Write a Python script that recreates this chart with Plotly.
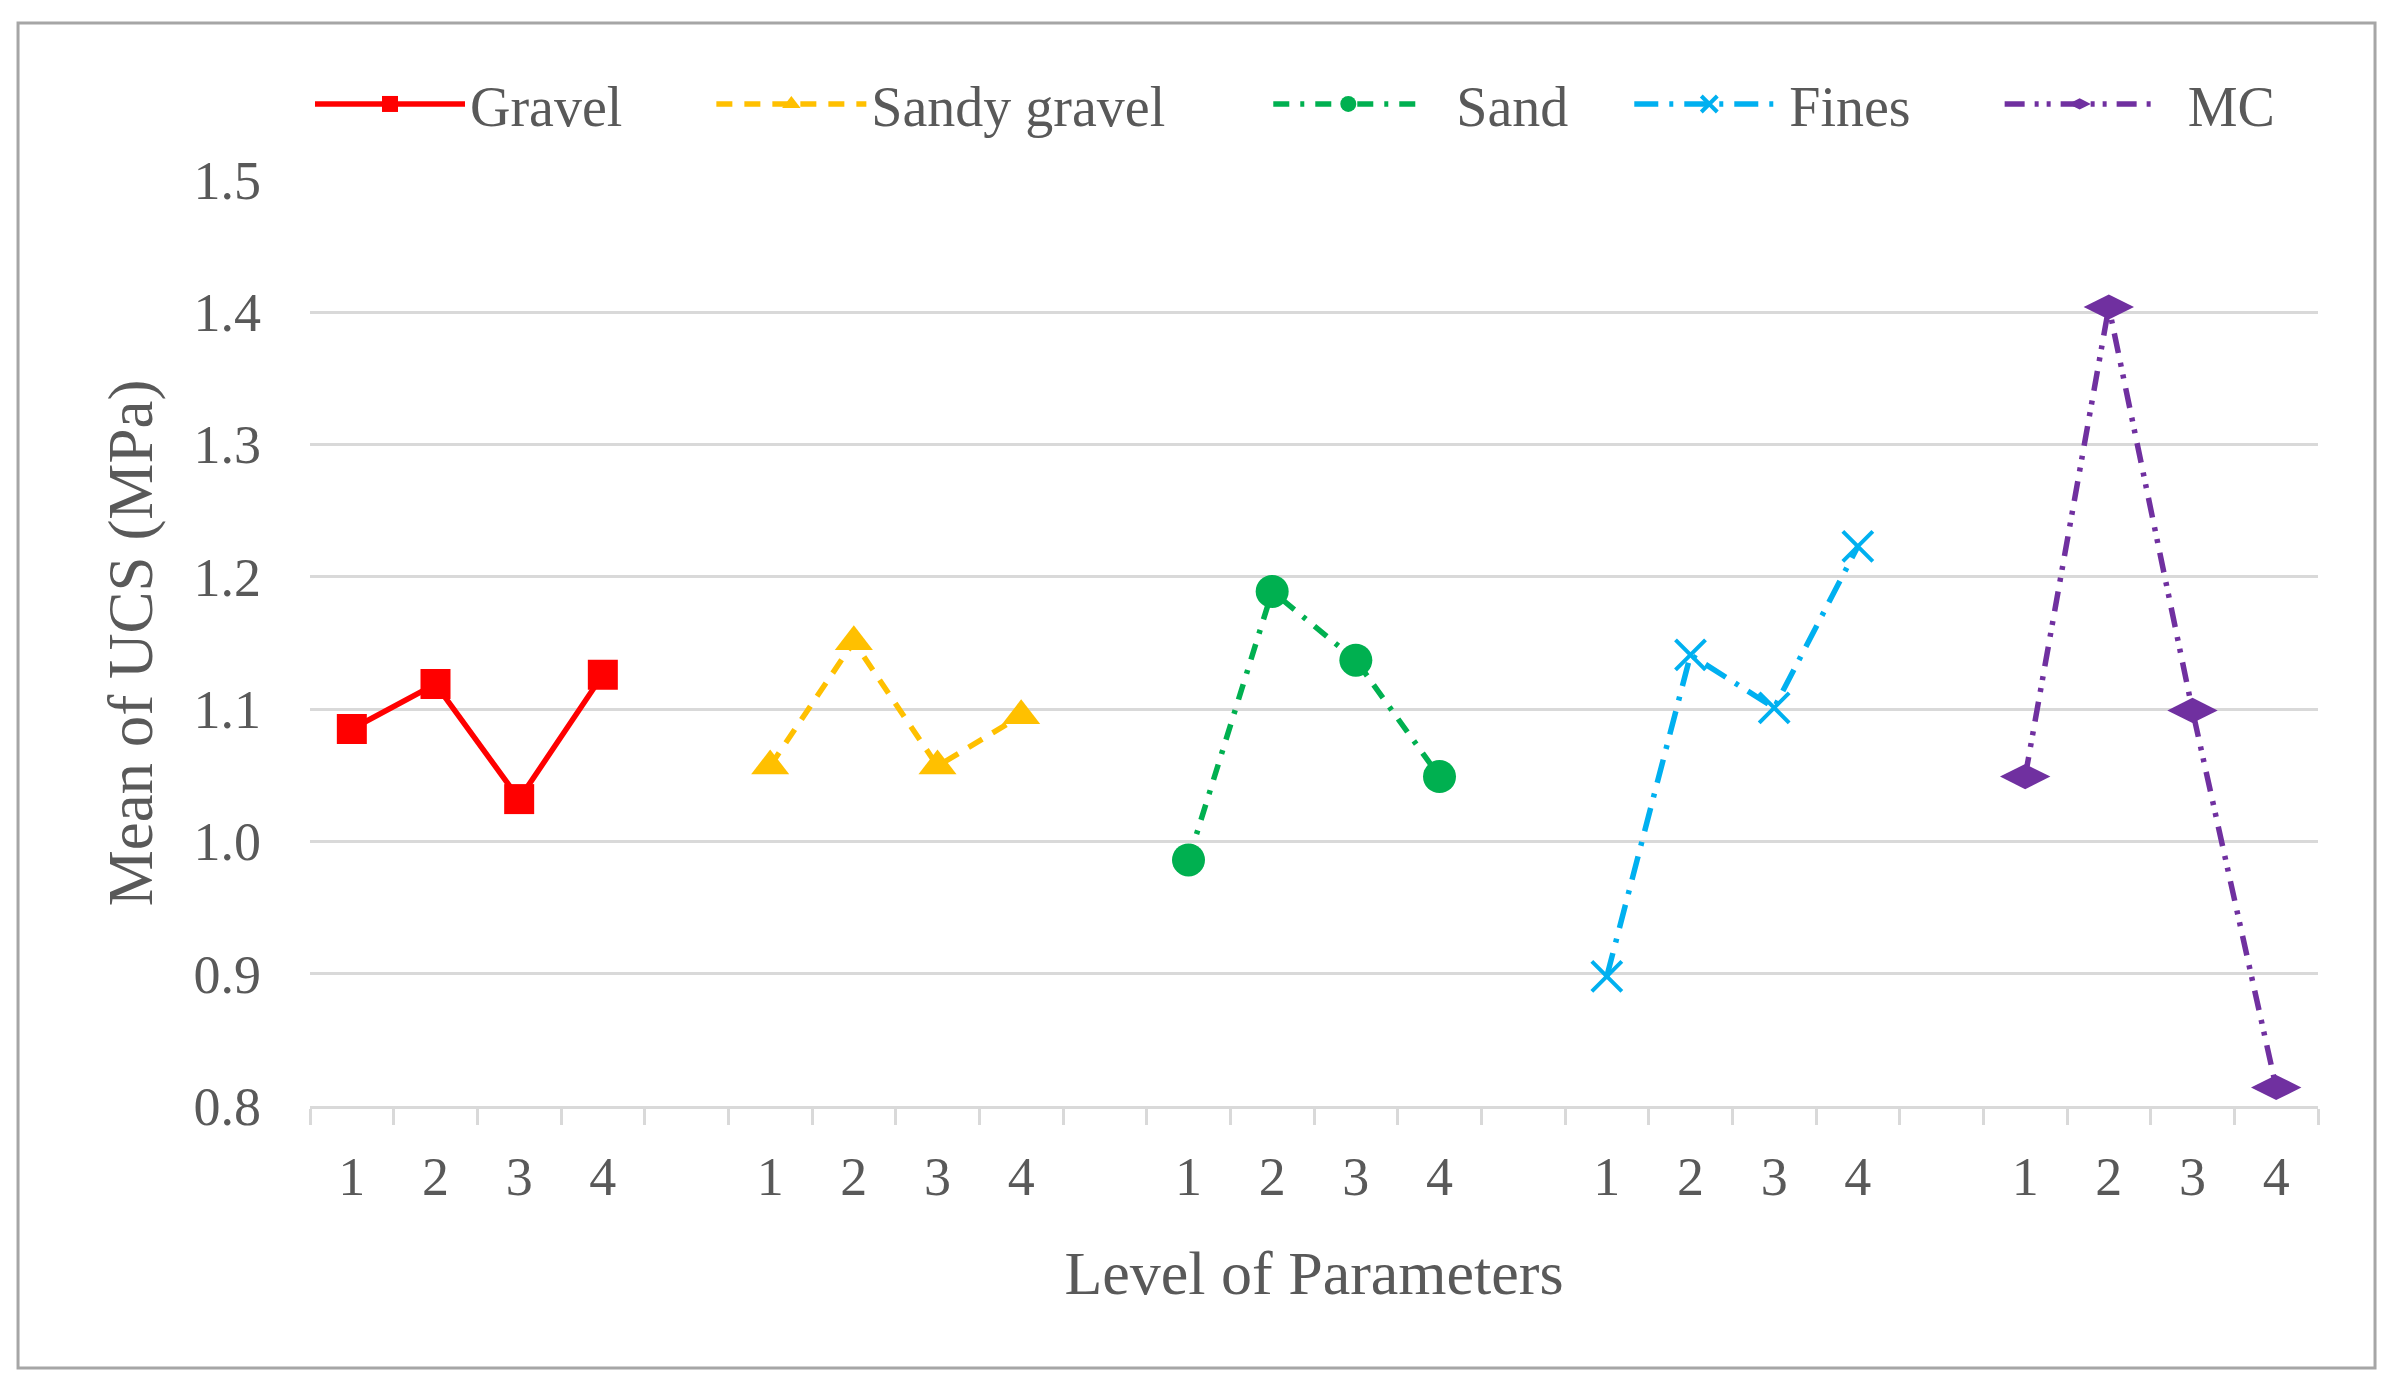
import plotly.graph_objects as go

# ---- data ----
levels = [1, 2, 3, 4]
series_names = ["Gravel", "Sandy gravel", "Sand", "Fines", "MC"]
gravel = [1.085, 1.119, 1.032, 1.126]
sandy_gravel = [1.057, 1.151, 1.057, 1.095]
sand = [0.986, 1.189, 1.137, 1.049]
fines = [0.898, 1.141, 1.101, 1.223]
mc = [1.049, 1.404, 1.099, 0.814]
y_ticks = [0.8, 0.9, 1.0, 1.1, 1.2, 1.3, 1.4, 1.5]

all_values = [gravel, sandy_gravel, sand, fines, mc]

# ---- styles ----
colors = ["#FF0000", "#FFC000", "#00B050", "#00B0F0", "#7030A0"]
dashes = ["solid", "16px,12px", "16px,11px,4px,11px", "24px,11px,4px,11px",
          "20px,10px,4px,8px,4px,10px"]
symbols = ["square", "triangle-up", "circle", "x-thin", "diamond-wide"]
msizes = [30, 33, 33, 30, 36]
NB = "\u00a0"
legend_labels = ["Gravel" + NB * 6, "Sandy gravel" + NB * 7, NB * 2 + "Sand" + NB * 4,
                 "Fines" + NB * 6, NB * 2 + "MC"]

slot = len(levels) + 1  # 4 levels plus one blank slot per group
fig = go.Figure()
for gi, vals in enumerate(all_values):
    xs = [gi * slot + (lv - 1) for lv in levels]
    mk = dict(symbol=symbols[gi], size=msizes[gi], color=colors[gi])
    if symbols[gi] == "x-thin":
        mk["line"] = dict(color=colors[gi], width=4)
    fig.add_trace(go.Scatter(
        x=xs, y=vals, mode="lines+markers", name=legend_labels[gi],
        line=dict(color=colors[gi], width=5.5, dash=dashes[gi]),
        marker=mk,
    ))

n_slots = slot * len(all_values) - 1
centers = [gi * slot + (lv - 1) for gi in range(len(all_values)) for lv in levels]
center_text = [str(lv) for gi in range(len(all_values)) for lv in levels]
boundaries = [i - 0.5 for i in range(n_slots + 1)]

txt = "#595959"
font_family = "Liberation Serif"

fig.update_layout(
    width=2378, height=1378,
    margin=dict(l=302, r=68, t=172, b=280),
    paper_bgcolor="white", plot_bgcolor="white",
    font=dict(family=font_family, color=txt, size=54),
    showlegend=True,
    legend=dict(orientation="h", x=0.0, xanchor="left", y=1.082, yanchor="middle",
                font=dict(size=56, color=txt), itemwidth=150,
                bgcolor="rgba(0,0,0,0)"),
    xaxis=dict(
        range=[-0.5, n_slots - 0.5],
        tickmode="array", tickvals=centers, ticktext=center_text,
        ticks="outside", ticklen=16, tickcolor="rgba(0,0,0,0)",
        ticklabelstandoff=5,
        showgrid=False, zeroline=False,
        showline=True, linecolor="#D9D9D9", linewidth=3,
        tickfont=dict(size=54, color=txt),
        minor=dict(tickmode="array", tickvals=boundaries, ticks="outside",
                   ticklen=16, tickcolor="#D9D9D9", tickwidth=3, showgrid=False),
        title=dict(text="Level of Parameters", font=dict(size=62, color=txt), standoff=45),
        automargin=False,
    ),
    yaxis=dict(
        range=[0.8, 1.5], tickmode="array", tickvals=y_ticks,
        ticktext=[f"{v:.1f}" for v in y_ticks],
        showgrid=True, gridcolor="#D9D9D9", gridwidth=3,
        zeroline=False, showline=False, ticks="",
        ticklabelstandoff=48,
        tickfont=dict(size=54, color=txt),
        title=dict(text="Mean of UCS (MPa)", font=dict(size=63, color=txt), standoff=20),
        automargin=False,
    ),
)

# outer frame around the whole chart
fig.add_shape(type="rect", xref="paper", yref="paper",
              x0=-0.1454, x1=1.0284, y0=-0.2829, y1=1.1695,
              line=dict(color="#A6A6A6", width=3), fillcolor="rgba(0,0,0,0)", layer="below")

fig.write_html("out.html")
